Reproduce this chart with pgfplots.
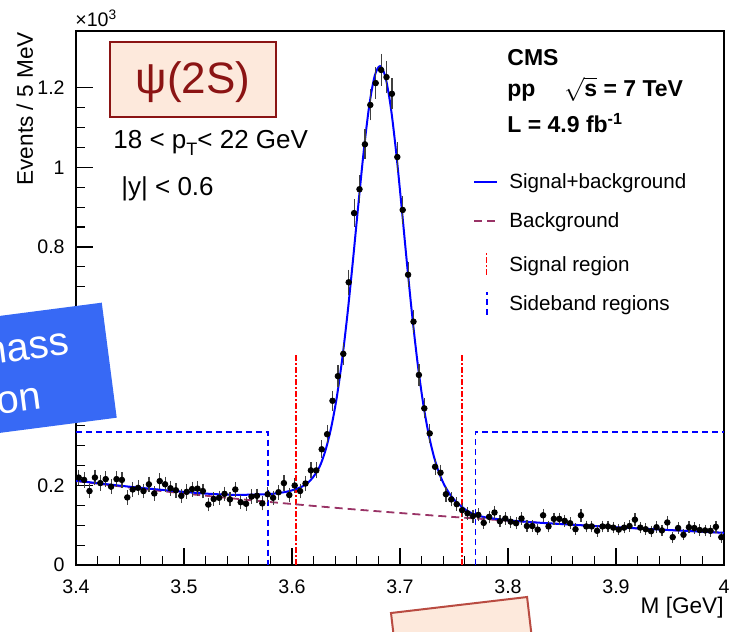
\documentclass[border=0pt]{standalone}
\usepackage{pgfplots}
\pgfplotsset{compat=1.18}
\usepackage{pgfplotstable}
\usepackage{fontspec}
\setmainfont{Liberation Sans}
\definecolor{bgcol}{RGB}{153,51,102}
\definecolor{sbblue}{RGB}{0,0,255}
\definecolor{boxblue}{RGB}{55,105,245}
\definecolor{peach}{RGB}{253,233,220}
\definecolor{psired}{RGB}{139,20,20}
\definecolor{pinkborder}{RGB}{185,75,65}

\pgfplotstableread{
x y e
3.4025 0.220 0.0148
3.4075 0.214 0.0146
3.4125 0.186 0.0136
3.4175 0.220 0.0148
3.4225 0.206 0.0144
3.4275 0.216 0.0147
3.4325 0.197 0.0140
3.4375 0.216 0.0147
3.4425 0.214 0.0146
3.4475 0.170 0.0130
3.4525 0.190 0.0138
3.4575 0.194 0.0139
3.4625 0.186 0.0136
3.4675 0.203 0.0142
3.4725 0.180 0.0134
3.4775 0.211 0.0145
3.4825 0.203 0.0142
3.4875 0.193 0.0139
3.4925 0.188 0.0137
3.4975 0.174 0.0132
3.5025 0.184 0.0136
3.5075 0.191 0.0138
3.5125 0.192 0.0139
3.5175 0.186 0.0136
3.5225 0.152 0.0123
3.5275 0.166 0.0129
3.5325 0.169 0.0130
3.5375 0.179 0.0134
3.5425 0.165 0.0128
3.5475 0.190 0.0138
3.5525 0.158 0.0126
3.5575 0.154 0.0124
3.5625 0.172 0.0131
3.5675 0.174 0.0132
3.5725 0.155 0.0124
3.5775 0.178 0.0133
3.5825 0.169 0.0130
3.5875 0.183 0.0135
3.5925 0.206 0.0144
3.5975 0.176 0.0133
3.6025 0.200 0.0141
3.6075 0.186 0.0136
3.6125 0.205 0.0143
3.6175 0.238 0.0154
3.6225 0.238 0.0154
3.6275 0.291 0.0171
3.6325 0.329 0.0181
3.6375 0.413 0.0203
3.6425 0.475 0.0218
3.6475 0.531 0.0230
3.6525 0.711 0.0267
3.6575 0.885 0.0297
3.6625 0.945 0.0307
3.6675 1.058 0.0325
3.6725 1.157 0.0340
3.6775 1.212 0.0348
3.6825 1.245 0.0353
3.6875 1.227 0.0350
3.6925 1.185 0.0344
3.6975 1.026 0.0320
3.7025 0.893 0.0299
3.7075 0.730 0.0270
3.7125 0.612 0.0247
3.7175 0.478 0.0219
3.7225 0.394 0.0198
3.7275 0.331 0.0182
3.7325 0.247 0.0157
3.7375 0.232 0.0152
3.7425 0.178 0.0133
3.7475 0.165 0.0128
3.7525 0.153 0.0124
3.7575 0.138 0.0117
3.7625 0.130 0.0114
3.7675 0.123 0.0111
3.7725 0.126 0.0112
3.7775 0.106 0.0103
3.7825 0.121 0.0110
3.7875 0.132 0.0115
3.7925 0.110 0.0105
3.7975 0.117 0.0108
3.8025 0.109 0.0104
3.8075 0.105 0.0102
3.8125 0.117 0.0108
3.8175 0.098 0.0099
3.8225 0.098 0.0099
3.8275 0.089 0.0094
3.8325 0.125 0.0112
3.8375 0.097 0.0098
3.8425 0.116 0.0108
3.8475 0.116 0.0108
3.8525 0.111 0.0105
3.8575 0.105 0.0102
3.8625 0.090 0.0095
3.8675 0.125 0.0112
3.8725 0.097 0.0098
3.8775 0.097 0.0098
3.8825 0.086 0.0093
3.8875 0.097 0.0098
3.8925 0.097 0.0098
3.8975 0.094 0.0097
3.9025 0.089 0.0094
3.9075 0.094 0.0097
3.9125 0.098 0.0099
3.9175 0.114 0.0107
3.9225 0.094 0.0097
3.9275 0.090 0.0095
3.9325 0.085 0.0092
3.9375 0.095 0.0097
3.9425 0.087 0.0093
3.9475 0.107 0.0103
3.9525 0.070 0.0084
3.9575 0.093 0.0096
3.9625 0.076 0.0087
3.9675 0.095 0.0097
3.9725 0.093 0.0096
3.9775 0.088 0.0094
3.9825 0.087 0.0093
3.9875 0.086 0.0093
3.9925 0.096 0.0098
3.9975 0.070 0.0084
}\datatable

\begin{document}
\begin{tikzpicture}
\useasboundingbox (-38pt,-33pt) rectangle (327.5pt,282.5pt);
\begin{axis}[
  at={(0pt,0pt)}, anchor=south west,
  scale only axis, width=324pt, height=267pt,
  xmin=3.4, xmax=4, ymin=0, ymax=1.343,
  axis line style={line width=0.6pt},
  tick style={line width=0.6pt, black},
  tick align=inside,
  xtick pos=bottom, ytick pos=left,
  major tick length=8.5pt, minor tick length=4.3pt,
  xtick={3.4,3.5,3.6,3.7,3.8,3.9,4},
  ytick={0,0.2,0.4,0.6,0.8,1,1.2},
  yticklabels={0,0.2,{},{},0.8,1,1.2},
  minor x tick num=4, minor y tick num=3,
  scaled y ticks=false,
  /pgf/number format/assume math mode=true,
  tick label style={font=\fontsize{9.8}{11}\selectfont},
  xticklabel style={anchor=base, inner sep=0pt, yshift=-14pt},
  yticklabel style={anchor=east, inner sep=0pt, xshift=-5.5pt},
]
\addplot[sbblue, line width=0.8pt, dash pattern=on 3pt off 2pt] coordinates {(3.4,0.335) (3.578,0.335) (3.578,0)};
\addplot[sbblue, line width=0.8pt, dash pattern=on 3pt off 2pt] coordinates {(3.770,0) (3.770,0.335) (4.0,0.335)};
\addplot[red, line width=0.75pt, dash pattern=on 3pt off 1.2pt on 0.6pt off 1.2pt] coordinates {(3.6037,0) (3.6037,0.533)};
\addplot[red, line width=0.75pt, dash pattern=on 3pt off 1.2pt on 0.6pt off 1.2pt] coordinates {(3.7574,0) (3.7574,0.533)};
\addplot[bgcol, line width=0.9pt, dash pattern=on 4pt off 2.5pt, smooth] coordinates {
(3.40,0.2110) (3.45,0.1948) (3.50,0.1799) (3.55,0.1661) (3.60,0.1534) (3.65,0.1416)
(3.70,0.1308) (3.75,0.1207) (3.80,0.1115) (3.85,0.1029) (3.90,0.0950) (3.95,0.0878) (4.00,0.0810)};
\addplot[blue, line width=1pt, smooth, tension=0.5] coordinates {
(3.40,0.2120) (3.45,0.1968) (3.50,0.1839) (3.525,0.1788) (3.55,0.1761)
(3.5615,0.1771) (3.5715,0.1775) (3.5815,0.1790) (3.5865,0.1807) (3.5915,0.1825)
(3.5965,0.1852) (3.6015,0.1890) (3.6065,0.1938) (3.6115,0.2006) (3.6165,0.2114)
(3.6215,0.2282) (3.6265,0.2530) (3.6315,0.2931) (3.6365,0.3485) (3.6415,0.4226)
(3.6465,0.5182) (3.6515,0.6346) (3.6565,0.7678) (3.6615,0.9084) (3.6665,1.0428)
(3.6715,1.1549) (3.6765,1.2294) (3.6815,1.2547) (3.6865,1.2272) (3.6915,1.1507)
(3.6965,1.0364) (3.7015,0.8999) (3.7065,0.7571) (3.7115,0.6218) (3.7165,0.5032)
(3.7215,0.4055) (3.7265,0.3292) (3.7315,0.2717) (3.7365,0.2294) (3.7415,0.1988)
(3.7465,0.1767) (3.7515,0.1603) (3.7565,0.1481) (3.7615,0.1376) (3.7665,0.1302)
(3.7715,0.1247) (3.7765,0.1213) (3.7815,0.1189) (3.7915,0.1150) (3.8015,0.1121)
(3.825,0.1071) (3.85,0.1029) (3.90,0.0950) (3.95,0.0878) (4.00,0.0810)};
\addplot[only marks, mark=*, mark size=1.4pt, black,
  error bars/.cd, y dir=both, y explicit,
  error bar style={line width=0.6pt, black!75},
  error mark options={mark size=1pt, line width=0.6pt, black!75}]
  table[x=x, y=y, y error=e] {\datatable};
\end{axis}

\node[anchor=base west, inner sep=0, font=\fontsize{9.8}{11}\selectfont] at (-0.5pt,269.2pt) {×10\textsuperscript{3}};
\node[rotate=90, anchor=base east, inner sep=0, font=\fontsize{11.3}{13}\selectfont] at (-21.5pt,266.6pt) {Events / 5 MeV};
\node[anchor=base east, inner sep=0, font=\fontsize{11.3}{13}\selectfont] at (324pt,-24pt) {M [GeV]};

\filldraw[fill=peach, draw=psired, line width=0.7pt] (17pt,261.5pt) rectangle (100pt,224pt);
\node[anchor=base, inner sep=0, text=psired, font=\fontsize{22}{26}\selectfont] at (58.5pt,235.6pt) {ψ(2S)};
\node[anchor=base west, inner sep=0, font=\fontsize{13}{15}\selectfont] at (18.5pt,208pt) {18 < p\raisebox{-0.45ex}{\fontsize{9}{10}\selectfont T}< 22 GeV};
\node[anchor=base west, inner sep=0, font=\fontsize{13}{15}\selectfont] at (22.5pt,184.8pt) {|y| < 0.6};

\node[anchor=base west, inner sep=0, font=\fontsize{11.5}{13}\selectfont\bfseries] at (215.5pt,249.7pt) {CMS};
\node[anchor=base west, inner sep=0, font=\fontsize{11.5}{13}\selectfont\bfseries] at (215.5pt,234pt) {pp};
\node[anchor=base west, inner sep=0, font=\fontsize{11.5}{13}\selectfont\bfseries] at (244pt,234pt) {$\sqrt{\mbox{\bfseries s}}$ = 7 TeV};
\node[anchor=base west, inner sep=0, font=\fontsize{11.5}{13}\selectfont\bfseries] at (215.5pt,216pt) {L = 4.9 fb\textsuperscript{-1}};

\draw[blue, line width=1pt] (199pt,191.5pt) -- (210.5pt,191.5pt);
\draw[bgcol, line width=0.9pt, dash pattern=on 4pt off 2.5pt] (199pt,172pt) -- (211pt,172pt);
\draw[red, line width=0.75pt, dash pattern=on 3pt off 1.2pt on 0.6pt off 1.2pt] (205.35pt,145pt) -- (205.35pt,156pt);
\draw[sbblue, line width=0.8pt, dash pattern=on 3pt off 2pt] (205.35pt,125pt) -- (205.35pt,136.5pt);
\node[anchor=base west, inner sep=0, font=\fontsize{10.3}{12}\selectfont] at (216.5pt,188pt) {Signal+background};
\node[anchor=base west, inner sep=0, font=\fontsize{10.3}{12}\selectfont] at (216.5pt,168.8pt) {Background};
\node[anchor=base west, inner sep=0, font=\fontsize{10.3}{12}\selectfont] at (216.5pt,146.7pt) {Signal region};
\node[anchor=base west, inner sep=0, font=\fontsize{10.3}{12}\selectfont] at (216.5pt,127.2pt) {Sideband regions};

\begin{scope}
\clip (-38pt,-33pt) rectangle (327.5pt,282.5pt);
\begin{scope}[shift={(20.35pt,73.65pt)}, rotate=7.4, transform shape]
\fill[boxblue] (-200pt,0pt) rectangle (0pt,58pt);
\node[anchor=base east, inner sep=0, text=white, font=\fontsize{20}{24}\selectfont] at (-18.6pt,34.4pt) {Invariant mass};
\node[anchor=base east, inner sep=0, text=white, font=\fontsize{20}{24}\selectfont] at (-36.1pt,9.4pt) {distribution};
\end{scope}
\begin{scope}[shift={(157.5pt,-24pt)}, rotate=6.7]
\filldraw[fill=peach, draw=pinkborder, line width=1pt] (0pt,-40pt) rectangle (68.5pt,0pt);
\end{scope}
\end{scope}
\end{tikzpicture}
\end{document}
